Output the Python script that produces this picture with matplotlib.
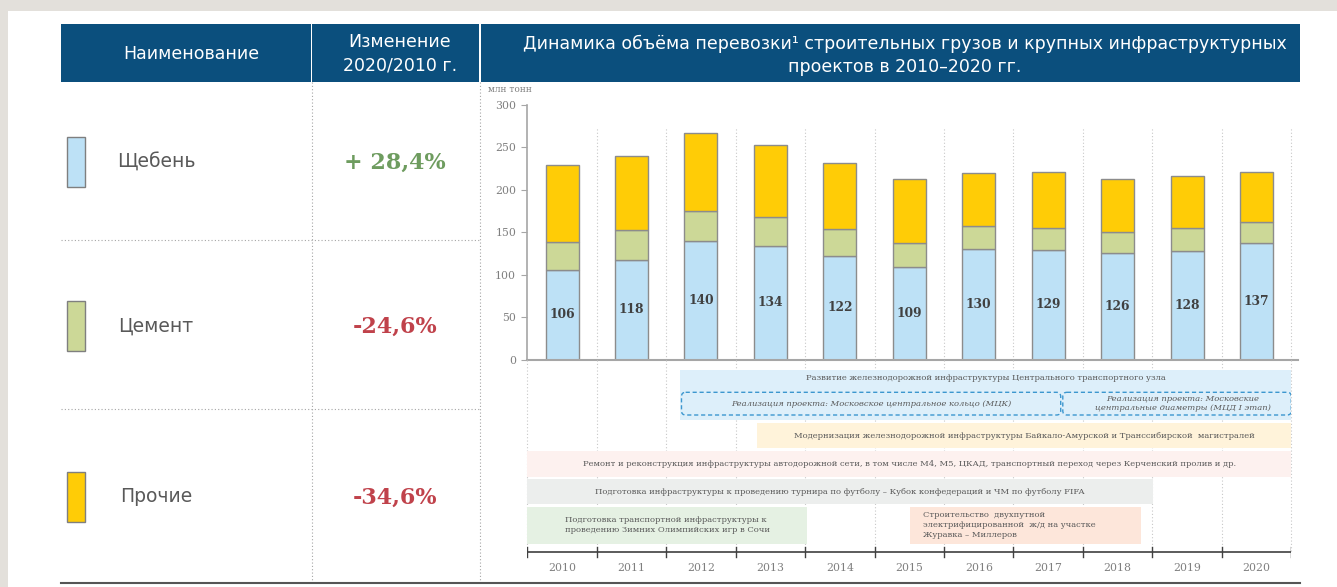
import matplotlib.pyplot as plt
from matplotlib.patches import Rectangle, FancyBboxPatch

W, H = 1337, 587

# --- data ---
years = list(range(2010, 2021))
gravel = [106, 118, 140, 134, 122, 109, 130, 129, 126, 128, 137]
cement = [33.0, 34.2, 35.3, 34.6, 32.2, 28.6, 27.1, 26.7, 24.7, 26.7, 25.1]
other = [90.7, 88.3, 91.5, 84.0, 77.8, 75.4, 62.4, 65.2, 62.4, 61.3, 59.3]

cargo_names = ['Щебень', 'Цемент', 'Прочие']
cargo_colors = ['#BDE1F6', '#CCD897', '#FFCC06']
changes = ['+ 28,4%', '-24,6%', '-34,6%']
change_colors = ['#6E9C5F', '#C0424B', '#C0424B']

project_labels = [
    'Развитие железнодорожной инфраструктуры Центрального транспортного узла',
    'Модернизация железнодорожной инфраструктуры Байкало-Амурской и Транссибирской  магистралей',
    'Ремонт и реконструкция инфраструктуры автодорожной сети, в том числе М4, М5, ЦКАД, '
    'транспортный переход через Керченский пролив и др.',
    'Подготовка инфраструктуры к проведению турнира по футболу – Кубок конфедераций и ЧМ по футболу FIFA',
    'Подготовка транспортной инфраструктуры к\nпроведению Зимних Олимпийских игр в Сочи',
    'Строительство  двухпутной\nэлектрифицированной  ж/д на участке\nЖуравка – Миллеров',
]
project_start = [2011.7, 2012.81, 2009.5, 2009.5, 2009.5, 2015.01]
project_end = [2020.5, 2020.5, 2020.5, 2018.51, 2013.53, 2018.33]

sub_labels = ['Реализация проекта: Московское центральное кольцо (МЦК)',
              'Реализация проекта: Московские\nцентральные диаметры (МЦД I этап)']
sub_start = [2011.72, 2017.21]
sub_end = [2017.18, 2020.5]

navy = '#0B4F7D'
gray_txt = '#595959'
serif = 'DejaVu Serif'
sans = 'DejaVu Sans'

fig = plt.figure(figsize=(W / 100, H / 100), dpi=100)
fig.patch.set_facecolor('#E3E0DB')

# --- background / table in pixel coordinates ---
bg = fig.add_axes([0, 0, 1, 1])
bg.set_xlim(0, W)
bg.set_ylim(H, 0)
bg.axis('off')
bg.add_patch(Rectangle((8, 11), W - 8, H - 11, fc='white', ec='none'))

bg.add_patch(Rectangle((61, 24), 250, 58, fc=navy, ec='none'))
bg.add_patch(Rectangle((312, 24), 167, 58, fc=navy, ec='none'))
bg.add_patch(Rectangle((481, 24), 819, 58, fc=navy, ec='none'))
bg.text(191, 54, 'Наименование', color='white', fontsize=12.5, family=sans, ha='center', va='center')
bg.text(400, 54, 'Изменение\n2020/2010 г.', color='white', fontsize=12.5, family=sans,
        ha='center', va='center', linespacing=1.4)
bg.text(905, 55, 'Динамика объёма перевозки¹ строительных грузов и крупных инфраструктурных\n'
        'проектов в 2010–2020 гг.', color='white', fontsize=12.5, family=sans,
        ha='center', va='center', linespacing=1.35)

for x in (312, 480):
    bg.plot([x, x], [82, 583], color='#A6A6A6', lw=0.8, ls=(0, (1, 2)))
for y in (240, 409):
    bg.plot([61, 480], [y, y], color='#A6A6A6', lw=0.8, ls=(0, (1, 2)))
bg.plot([61, 1300], [583, 583], color='#555555', lw=1.5)

row_y = [162, 326, 497]
for i, name in enumerate(cargo_names):
    bg.add_patch(Rectangle((67, row_y[i] - 25), 18, 50, fc=cargo_colors[i], ec='#7F7F7F', lw=1))
    bg.text(156, row_y[i], name, color=gray_txt, fontsize=13.5, family=sans, ha='center', va='center')
    bg.text(395, row_y[i] + 1, changes[i], color=change_colors[i], fontsize=16, family=serif,
            weight='bold', ha='center', va='center')

bg.text(488, 90, 'млн тонн', color='#7F7F7F', fontsize=6.5, family=serif, ha='left', va='center')

# --- stacked bars ---
x0, x1 = 527.3, 1291.3
y_zero, y_top = 359.7, 105
ax = fig.add_axes([x0 / W, (H - y_zero) / H, (x1 - x0) / W, (y_zero - y_top) / H])
ax.set_facecolor('none')
bw = 0.475
edge = '#8C8C8C'
bot2 = [g + c for g, c in zip(gravel, cement)]
ax.bar(years, gravel, width=bw, color=cargo_colors[0], edgecolor=edge, lw=1, zorder=3)
ax.bar(years, cement, bottom=gravel, width=bw, color=cargo_colors[1], edgecolor=edge, lw=1, zorder=3)
ax.bar(years, other, bottom=bot2, width=bw, color=cargo_colors[2], edgecolor=edge, lw=1, zorder=3)
for yr, g in zip(years, gravel):
    ax.text(yr, g / 2, str(g), ha='center', va='center', fontsize=8.8, weight='bold',
            family=serif, color='#404040', zorder=4)

ax.set_xlim(2009.5, 2020.5)
ax.set_ylim(0, 300)
ax.set_yticks(range(0, 301, 50))
ax.set_xticks([])
for s in ('top', 'right', 'bottom'):
    ax.spines[s].set_visible(False)
ax.spines['left'].set_color('#A6A6A6')
ax.spines['left'].set_linewidth(1.2)
ax.tick_params(axis='y', length=4, color='#A6A6A6', labelcolor='#7F7F7F', labelsize=7.8, pad=4)
for lab in ax.get_yticklabels():
    lab.set_family(serif)
ax.plot([2009.5, 2020.6], [0, 0], color='#A6A6A6', lw=1.5, clip_on=False, zorder=5)
for b in [y + 0.5 for y in years]:
    ax.plot([b, b], [0, 273], color='#C8C8C8', lw=0.8, ls=(0, (1, 2)), clip_on=False, zorder=1)

# --- projects timeline ---
tl = fig.add_axes([x0 / W, (H - 585) / H, (x1 - x0) / W, 225 / H])
tl.set_xlim(2009.5, 2020.5)
tl.set_ylim(225, 0)
tl.axis('off')

for b in [years[0] - 0.5] + [y + 0.5 for y in years]:
    tl.plot([b, b], [0, 191.7], color='#C8C8C8', lw=0.8, ls=(0, (1, 2)), zorder=1, clip_on=False)

row_top = [10, 63.3, 90.7, 119, 147, 147]
row_h = [50, 25, 26, 25.3, 36.7, 36.7]
fills = ['#DDEFFA', '#FFF3DA', '#FDF1EF', '#ECEEED', '#E5F1E3', '#FDE6DA']
for i, lab in enumerate(project_labels):
    s, e = project_start[i], project_end[i]
    tl.add_patch(Rectangle((s, row_top[i]), e - s, row_h[i], fc=fills[i], ec='none', zorder=2))
    if i == 0:
        tl.text((s + e) / 2, row_top[i] + 8, lab, ha='center', va='center', fontsize=6,
                family=serif, color=gray_txt, zorder=4)
    elif i == 5:
        tl.text(s + 0.19, row_top[i] + row_h[i] / 2, lab, ha='left', va='center', fontsize=6,
                family=serif, color=gray_txt, zorder=4, linespacing=1.35)
    else:
        tl.text((s + e) / 2, row_top[i] + row_h[i] / 2, lab, ha='center', va='center', fontsize=6,
                family=serif, color=gray_txt, zorder=4, multialignment='left', linespacing=1.35)

for i, lab in enumerate(sub_labels):
    s, e = sub_start[i], sub_end[i]
    tl.add_patch(FancyBboxPatch((s, 32.3), e - s, 22.7,
                                boxstyle='round,pad=0,rounding_size=0.06',
                                mutation_aspect=69.45, fc='none', ec='#3C97CF', lw=1,
                                ls=(0, (3, 2)), zorder=3))
    tl.text((s + e) / 2 + (0.08 if i else 0), 43.7, lab, ha='center', va='center', fontsize=6,
            family=serif, style='italic', color=gray_txt, zorder=4, linespacing=1.2)

tl.plot([2009.5, 2020.5], [191.7, 191.7], color='#404040', lw=1.2, zorder=3)
for b in [years[0] - 0.5] + [y + 0.5 for y in years]:
    tl.plot([b, b], [186.7, 196.7], color='#404040', lw=1, zorder=3)
for yr in years:
    tl.text(yr, 208, str(yr), ha='center', va='center', fontsize=7.8, family=serif, color='#7F7F7F')

fig.savefig('out.png', dpi=100, facecolor=fig.get_facecolor())
